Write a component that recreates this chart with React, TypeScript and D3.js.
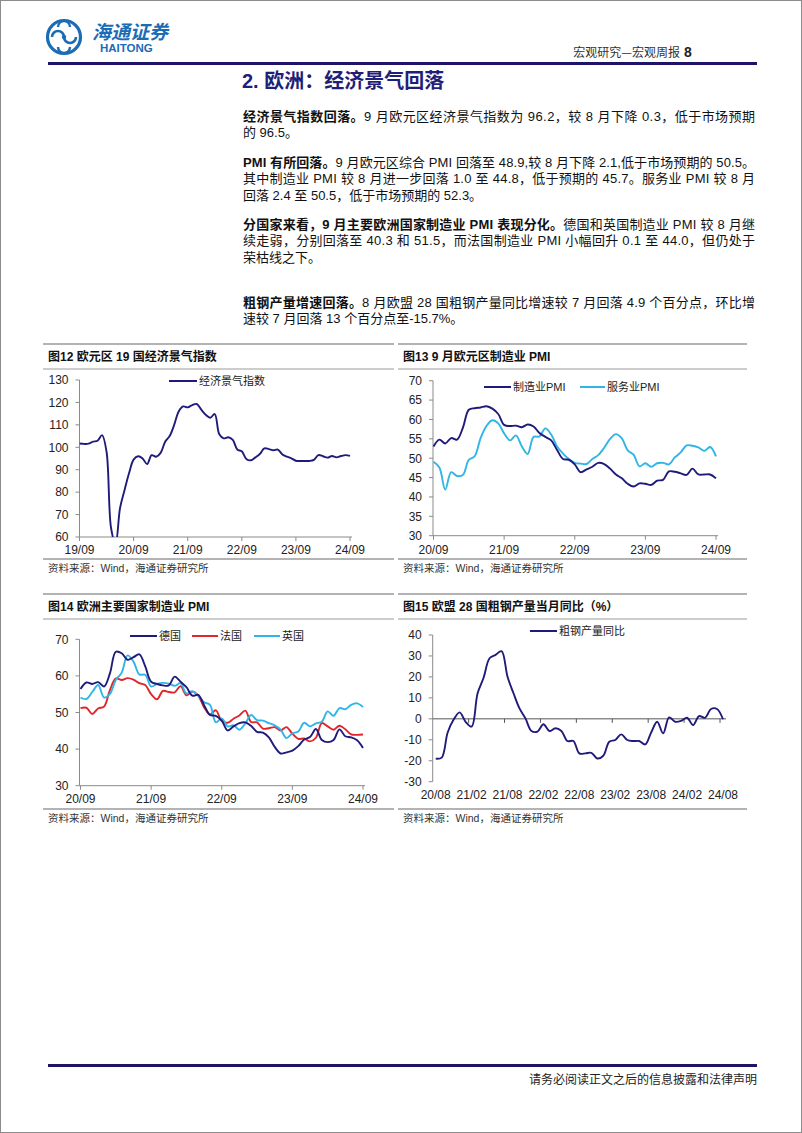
import React from 'react';
import * as d3 from 'd3';

const NAVY = '#1F1B7B';
const SKY = '#2FB5E6';
const RED = '#E1252B';
const AXIS = '#8a8a8a';
const RULE = '#9a9a9a';
const LOGO = '#1C6BB5';
const FONT = '"Liberation Sans", Arial, "Noto Sans CJK SC", sans-serif';

// ---------- data ----------
const esiTickLabels = ['19/09', '20/09', '21/09', '22/09', '23/09', '24/09'];
const esiValues = [
  101.7, 101.5, 101.6, 102.5, 102.9, 105.4, 98.0, 64.0, 57.0, 73.0, 81.0, 88.5,
  94.5, 96.0, 95.0, 92.5, 96.5, 95.8, 97.5, 102.5, 105.0, 110.0, 116.0, 118.2,
  117.8, 118.8, 119.3, 116.8, 114.5, 113.2, 114.8, 105.8, 104.0, 104.5, 103.3, 99.0,
  98.2, 94.8, 94.2, 95.5, 97.0, 99.5, 99.2, 98.7, 99.0, 96.8, 95.8, 95.1,
  94.0, 93.9, 93.9, 93.9, 94.4, 96.5, 96.0, 95.4, 96.1, 95.5, 96.1, 96.5, 96.2,
];

const pmiTickLabels = ['20/09', '21/09', '22/09', '23/09', '24/09'];
const euroMfg = [
  53.0, 54.8, 53.8, 55.2,
  54.8, 57.9, 62.5, 62.9, 63.1, 63.4, 62.8, 61.4, 58.6, 58.3, 58.4, 58.0,
  58.7, 58.2, 56.5, 55.5, 54.6, 52.1, 49.8, 49.6, 48.4, 46.4, 47.1, 47.8,
  48.8, 48.5, 47.3, 45.8, 44.8, 43.4, 42.7, 43.5, 43.4, 43.1, 44.2, 44.4,
  46.6, 46.5, 46.1, 45.7, 47.3, 45.8, 45.8, 45.8, 44.8,
];
const euroSvc = [
  49.1, 47.6, 41.9, 46.4,
  45.4, 45.7, 49.6, 50.5, 55.2, 58.3, 59.8, 59.0, 56.4, 54.6, 55.9, 53.1,
  51.1, 55.5, 55.6, 57.7, 56.1, 53.0, 51.2, 49.8, 48.8, 48.6, 48.5, 49.8,
  50.8, 52.7, 55.0, 56.2, 55.1, 52.0, 50.9, 47.9, 48.7, 47.8, 48.7, 48.8,
  48.4, 50.2, 51.5, 53.3, 53.2, 52.8, 51.9, 52.9, 50.5,
];
const deMfg = [
  56.4, 58.2, 57.8, 58.3,
  57.1, 60.7, 66.6, 66.2, 64.4, 65.1, 65.9, 62.6, 58.4, 57.8, 57.4, 57.4,
  59.8, 58.4, 56.9, 54.6, 54.8, 52.0, 49.3, 49.1, 47.8, 45.1, 46.2, 47.1,
  47.3, 46.3, 44.7, 44.5, 43.2, 40.6, 38.8, 39.1, 39.6, 40.8, 42.6, 43.3,
  45.5, 42.5, 41.9, 42.5, 45.4, 43.5, 43.2, 42.4, 40.3,
];
const frMfg = [
  51.2, 51.3, 49.6, 51.1,
  51.6, 56.1, 59.3, 58.9, 59.4, 59.0, 58.0, 57.5, 55.0, 53.6, 55.9, 55.6,
  55.5, 57.2, 54.7, 55.7, 54.6, 51.4, 49.5, 50.6, 47.7, 47.2, 48.3, 49.2,
  50.5, 47.4, 47.3, 45.6, 45.7, 46.0, 45.1, 46.0, 44.2, 42.8, 42.9, 42.1,
  43.1, 47.1, 46.2, 45.3, 46.4, 45.4, 44.0, 43.9, 44.0,
];
const ukMfg = [
  54.1, 53.7, 55.6, 57.5,
  54.1, 55.1, 58.9, 60.9, 65.6, 63.9, 60.4, 60.3, 57.1, 57.8, 58.1, 57.9,
  57.3, 58.0, 55.2, 55.8, 54.6, 52.8, 52.1, 47.3, 48.4, 46.2, 46.5, 45.3,
  47.0, 49.3, 47.9, 47.8, 47.1, 46.5, 45.3, 43.0, 44.3, 44.8, 47.2, 46.2,
  47.0, 47.5, 50.3, 49.1, 51.2, 50.9, 52.1, 52.5, 51.5,
];

const steelTickLabels = ['20/08', '21/02', '21/08', '22/02', '22/08', '23/02', '23/08', '24/02', '24/08'];
const steelYoY = [
  -19.0, -18.5, -6.5, -0.3, 3.1, -1.4, -3.7, 12.2, 19.6, 28.9, 30.5, 32.3,
  20.1, 12.2, 5.0, 0.2, -5.8, -6.1, -2.6, -5.8, -4.5, -5.8, -10.6, -10.6,
  -16.5, -16.5, -16.2, -18.9, -17.6, -10.9, -10.1, -7.4, -10.1, -10.6, -10.6, -12.2,
  -6.5, -1.4, -6.9, 0.7, -1.4, -1.0, 0.5, -3.0, 1.3, 0.5, 4.7, 4.7, -0.2,
];

// ---------- body text ----------
type Seg = { t: string; b?: boolean };
const paragraphs: { lines: Seg[][] }[] = [
  {
    lines: [
      [{ t: '经济景气指数回落。', b: true }, { t: '9 月欧元区经济景气指数为 96.2，较 8 月下降 0.3，低于市场预期' }],
      [{ t: '的 96.5。' }],
    ],
  },
  {
    lines: [
      [{ t: 'PMI 有所回落。', b: true }, { t: '9 月欧元区综合 PMI 回落至 48.9,较 8 月下降 2.1,低于市场预期的 50.5。' }],
      [{ t: '其中制造业 PMI 较 8 月进一步回落 1.0 至 44.8，低于预期的 45.7。服务业 PMI 较 8 月' }],
      [{ t: '回落 2.4 至 50.5，低于市场预期的 52.3。' }],
    ],
  },
  {
    lines: [
      [{ t: '分国家来看，9 月主要欧洲国家制造业 PMI 表现分化。', b: true }, { t: '德国和英国制造业 PMI 较 8 月继' }],
      [{ t: '续走弱，分别回落至 40.3 和 51.5，而法国制造业 PMI 小幅回升 0.1 至 44.0，但仍处于' }],
      [{ t: '荣枯线之下。' }],
    ],
  },
  {
    lines: [
      [{ t: '粗钢产量增速回落。', b: true }, { t: '8 月欧盟 28 国粗钢产量同比增速较 7 月回落 4.9 个百分点，环比增' }],
      [{ t: '速较 7 月回落 13 个百分点至-15.7%。' }],
    ],
  },
];
const paraTops = [116, 162, 224, 302];
const LINE_H = 16.5;

type Series = { values: number[]; color: string };
type LegendItem = { label: string; color: string; x1: number; x2: number };

interface ChartCfg {
  axisX: number;
  firstX: number;
  lastX: number;
  topY: number;
  bottomY: number;
  yMin: number;
  yMax: number;
  yStep: number;
  tickEvery: number;
  tickLabels: string[];
  series: Series[];
  legend: LegendItem[];
  legendY: number;
  labelY: number;
  band?: boolean;
  id: string;
}

function Chart({ c }: { c: ChartCfg }) {
  const n = c.series[0].values.length;
  const y = d3.scaleLinear().domain([c.yMin, c.yMax]).range([c.bottomY, c.topY]);
  let xPos: (i: number) => number;
  let bw = 0;
  if (c.band) {
    bw = (c.lastX - c.axisX) / n;
    xPos = (i: number) => c.axisX + (i + 0.5) * bw;
  } else {
    const xs = d3.scaleLinear().domain([0, n - 1]).range([c.firstX, c.lastX]);
    xPos = (i: number) => xs(i);
  }
  const line = d3
    .line<number>()
    .x((_, i) => xPos(i))
    .y((v) => y(v))
    .curve(d3.curveCatmullRom.alpha(0.5));
  const yTicks = d3.range(c.yMin, c.yMax + 0.001, c.yStep);
  const tickIdx = d3.range(0, n, c.tickEvery);
  const axisY = c.band ? y(0) : c.bottomY;
  const axisEnd = c.band ? c.lastX : c.lastX + 2;
  return (
    <g>
      <defs>
        <clipPath id={c.id}>
          <rect x={c.axisX} y={c.topY - 10} width={c.lastX - c.axisX + 10} height={c.bottomY - c.topY + 10} />
        </clipPath>
      </defs>
      {/* y axis */}
      <line x1={c.axisX} x2={c.axisX} y1={c.topY} y2={c.bottomY} stroke={AXIS} strokeWidth={1} />
      {yTicks.map((v) => (
        <g key={v}>
          <line x1={c.axisX - 4} x2={c.axisX} y1={y(v)} y2={y(v)} stroke={AXIS} />
          <text x={c.axisX - 11} y={y(v)} dy="0.36em" textAnchor="end" fontSize={12} fill="#222" fontFamily={FONT}>
            {v}
          </text>
        </g>
      ))}
      {/* x axis */}
      <line x1={c.axisX} x2={axisEnd} y1={axisY} y2={axisY} stroke={c.band ? '#555' : AXIS} strokeWidth={1} />
      {c.band
        ? d3.range(c.tickEvery, n + 1, c.tickEvery).map((k) => (
            <line key={k} x1={c.axisX + k * bw} x2={c.axisX + k * bw} y1={axisY} y2={axisY + 4} stroke="#555" />
          ))
        : tickIdx.map((i) => (
            <line key={i} x1={xPos(i)} x2={xPos(i)} y1={axisY} y2={axisY + 4} stroke={AXIS} />
          ))}
      {tickIdx.map((i, k) => (
        <text key={i} x={xPos(i)} y={c.labelY} textAnchor="middle" fontSize={12} fill="#222" fontFamily={FONT}>
          {c.tickLabels[k]}
        </text>
      ))}
      {/* series */}
      <g clipPath={`url(#${c.id})`}>
        {c.series.map((s, k) => (
          <path key={k} d={line(s.values) || ''} fill="none" stroke={s.color} strokeWidth={1.9} strokeLinejoin="round" />
        ))}
      </g>
      {/* legend */}
      {c.legend.map((l) => (
        <g key={l.label}>
          <line x1={l.x1} x2={l.x2} y1={c.legendY} y2={c.legendY} stroke={l.color} strokeWidth={2} />
          <text x={l.x2 + 2} y={c.legendY} dy="0.36em" fontSize={11} fill="#222" fontFamily={FONT}>
            {l.label}
          </text>
        </g>
      ))}
    </g>
  );
}

function Panel({ x1, x2, top, title, source }: { x1: number; x2: number; top: number; title: string; source: string }) {
  return (
    <g>
      <line x1={x1} x2={x2} y1={top} y2={top} stroke={RULE} strokeWidth={1.6} />
      <text x={x1 + 5} y={top + 17} fontSize={12} fontWeight="bold" fill="#111" fontFamily={FONT}>
        {title}
      </text>
      <line x1={x1} x2={x2} y1={top + 25} y2={top + 25} stroke={RULE} strokeWidth={1} />
      <line x1={x1} x2={x2} y1={top + 215} y2={top + 215} stroke={RULE} strokeWidth={1.6} />
      <text x={x1 + 5} y={top + 228} fontSize={10.5} fill="#333" fontFamily={FONT}>
        {source}
      </text>
    </g>
  );
}

export default function App() {
  const chart1: ChartCfg = {
    id: 'c1',
    axisX: 79.5,
    firstX: 79.5,
    lastX: 350,
    topY: 380,
    bottomY: 537,
    yMin: 60,
    yMax: 130,
    yStep: 10,
    tickEvery: 12,
    tickLabels: esiTickLabels,
    series: [{ values: esiValues, color: NAVY }],
    legend: [{ label: '经济景气指数', color: NAVY, x1: 169, x2: 197 }],
    legendY: 381,
    labelY: 554,
  };
  const chart2: ChartCfg = {
    id: 'c2',
    axisX: 433,
    firstX: 433.5,
    lastX: 716,
    topY: 380.7,
    bottomY: 535.7,
    yMin: 30,
    yMax: 70,
    yStep: 5,
    tickEvery: 12,
    tickLabels: pmiTickLabels,
    series: [
      { values: euroSvc, color: SKY },
      { values: euroMfg, color: NAVY },
    ],
    legend: [
      { label: '制造业PMI', color: NAVY, x1: 484, x2: 511 },
      { label: '服务业PMI', color: SKY, x1: 580, x2: 605 },
    ],
    legendY: 387,
    labelY: 554,
  };
  const chart3: ChartCfg = {
    id: 'c3',
    axisX: 79.5,
    firstX: 80.5,
    lastX: 363,
    topY: 639.3,
    bottomY: 785.7,
    yMin: 30,
    yMax: 70,
    yStep: 10,
    tickEvery: 12,
    tickLabels: pmiTickLabels,
    series: [
      { values: frMfg, color: RED },
      { values: ukMfg, color: SKY },
      { values: deMfg, color: NAVY },
    ],
    legend: [
      { label: '德国', color: NAVY, x1: 130, x2: 157 },
      { label: '法国', color: RED, x1: 192, x2: 218 },
      { label: '英国', color: SKY, x1: 254, x2: 280 },
    ],
    legendY: 636,
    labelY: 803,
  };
  const chart4: ChartCfg = {
    id: 'c4',
    axisX: 432.7,
    firstX: 436.7,
    lastX: 726,
    topY: 635,
    bottomY: 781.7,
    yMin: -30,
    yMax: 40,
    yStep: 10,
    tickEvery: 6,
    tickLabels: steelTickLabels,
    series: [{ values: steelYoY, color: NAVY }],
    legend: [{ label: '粗钢产量同比', color: NAVY, x1: 530, x2: 557 }],
    legendY: 631,
    labelY: 799,
    band: true,
  };

  return (
    <svg
      width={802}
      height={1133}
      style={{ position: 'absolute', left: 0, top: 0, background: '#fff' }}
      fontFamily={FONT}
    >
      <rect x={0.5} y={0.5} width={801} height={1132} fill="#fff" stroke="#8c8c8c" />
      {/* logo */}
      <g>
        <circle cx={64} cy={37} r={16.5} fill="none" stroke={LOGO} strokeWidth={3.2} />
        <path d="M52,37 a6,6 0 1 1 12,0 a6,6 0 1 0 12,0" fill="none" stroke={LOGO} strokeWidth={2.6} />
        <path d="M58,27 a5,5 0 0 1 12,0" fill="none" stroke={LOGO} strokeWidth={2.4} />
        <path d="M58,47 a5,5 0 0 0 12,0" fill="none" stroke={LOGO} strokeWidth={2.4} />
        <circle cx={64} cy={37} r={2.2} fill={LOGO} />
        <text x={92} y={39} fontSize={19} fill={LOGO} fontStyle="italic" fontWeight="bold" fontFamily='"Noto Sans CJK SC", sans-serif'>
          海通证券
        </text>
        <text x={100} y={52} fontSize={11.5} fill={LOGO} fontWeight="bold" fontFamily={FONT}>
          HAITONG
        </text>
      </g>
      <text x={680} y={57} textAnchor="end" fontSize={12} fill="#333" fontFamily='"Noto Sans CJK SC", sans-serif'>
        宏观研究—宏观周报
      </text>
      <text x={684} y={57} fontSize={14} fontWeight="bold" fill="#222" fontFamily={FONT}>
        8
      </text>
      <rect x={48} y={62} width={709} height={3} fill="#1E1466" />

      {/* section title */}
      <text x={242} y={88} fontSize={20} fontWeight="bold" fill="#1F1F7A" fontFamily={FONT}>
        2. 欧洲：经济景气回落
      </text>

      {/* body text */}
      {paragraphs.map((p, pi) =>
        p.lines.map((ln, li) => {
          const last = li === p.lines.length - 1;
          return (
            <text
              key={`${pi}-${li}`}
              x={243}
              y={paraTops[pi] + li * LINE_H + 4.5}
              fontSize={13}
              fill="#111"
              fontFamily={FONT}
              {...(last ? {} : { textLength: 512, lengthAdjust: 'spacing' })}
            >
              {ln.map((s, si) => (
                <tspan key={si} fontWeight={s.b ? 'bold' : 'normal'}>
                  {s.t}
                </tspan>
              ))}
            </text>
          );
        })
      )}

      {/* chart panels */}
      <Panel x1={43} x2={394} top={344} title="图12  欧元区 19 国经济景气指数" source="资料来源：Wind，海通证券研究所" />
      <Panel x1={398} x2={747} top={344} title="图13  9 月欧元区制造业 PMI" source="资料来源：Wind，海通证券研究所" />
      <Panel x1={43} x2={394} top={594} title="图14  欧洲主要国家制造业 PMI" source="资料来源：Wind，海通证券研究所" />
      <Panel x1={398} x2={747} top={594} title="图15 欧盟 28 国粗钢产量当月同比（%）" source="资料来源：Wind，海通证券研究所" />

      <Chart c={chart1} />
      <Chart c={chart2} />
      <Chart c={chart3} />
      <Chart c={chart4} />

      {/* footer */}
      <rect x={48} y={1064} width={709} height={3} fill="#1E1466" />
      <text x={757} y={1084} textAnchor="end" fontSize={12} fill="#222" fontFamily='"Noto Sans CJK SC", sans-serif'>
        请务必阅读正文之后的信息披露和法律声明
      </text>
    </svg>
  );
}
